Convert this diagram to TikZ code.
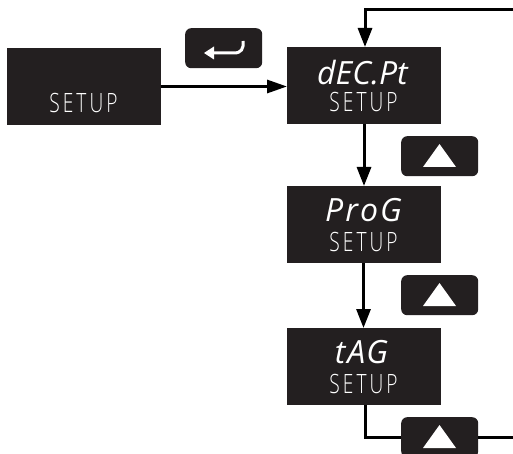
\documentclass[tikz,border=0pt]{standalone}
\usepackage{fontspec}
\setmainfont{Open Sans}
\newfontfamily\setupfont[UprightFont=* Light,FakeStretch=0.72]{Open Sans}
\newfontfamily\lcdfont[UprightFont=* Italic,FakeStretch=1.0]{Open Sans}
\usetikzlibrary{arrows.meta}
\definecolor{panel}{HTML}{231F20}
\newcommand{\setupword}{S\kern3pt E\kern3pt T\kern3pt U\kern3pt P}
\tikzset{
  x=1pt,y=-1pt,
  display/.style={fill=panel,draw=none,inner sep=0,minimum width=154pt,minimum height=77pt,anchor=north west},
  keybox/.style={fill=panel,draw=none,rounded corners=6pt,inner sep=0,minimum width=77pt,minimum height=40pt,anchor=north west},
  setuptext/.style={text=white,font=\setupfont\fontsize{26.6}{27}\selectfont,inner sep=0,anchor=base},
  lcdtext/.style={text=white,font=\lcdfont\fontsize{32}{32}\selectfont,inner sep=0,anchor=base},
  flow/.style={line width=3pt,draw=black},
  flowarrow/.style={flow,-{Triangle[length=19pt,width=14pt]}},
  keymark/.style={fill=white,draw=none},
}
\begin{document}
\begin{tikzpicture}
\clip (0,0) rectangle (513,454);
\fill[white] (0,0) rectangle (513,454);
% displays
\node[display] (start) at (7,47.5) {};
\node[display] (decpt) at (287,47) {};
\node[display] (prog) at (287,186) {};
\node[display] (tag) at (287,328) {};
% keys
\node[keybox] (enter) at (185,28) {};
\node[keybox] (up1) at (401,136) {};
\node[keybox] (up2) at (401,275) {};
\node[keybox] (up3) at (401,417) {};
% display text
\node[setuptext] (s0) at (83.5,113) {\setupword};
\node[setuptext] (s1) at (363.5,112) {\setupword};
\node[setuptext] (s2) at (363.5,251) {\setupword};
\node[setuptext] (s3) at (363.5,393) {\setupword};
\node[lcdtext] (t1) at (362.5,85) {dEC.Pt};
\node[lcdtext] (t2) at (363.5,222) {P\kern2pt r\kern2pt o\kern2pt G};
\node[lcdtext] (t3) at (361.5,363) {t\kern2pt A\kern1pt G};
% key marks
\fill[keymark] (423,167) -- (439.5,144) -- (456,167) -- cycle;
\fill[keymark] (423,306) -- (439.5,283) -- (456,306) -- cycle;
\fill[keymark] (423,448) -- (439.5,425) -- (456,448) -- cycle;
\draw[white,line width=3pt] (212,53) -- (234,53) .. controls (241,53) and (244,49) .. (243,41);
\fill[keymark] (204,53) -- (214,46.5) -- (214,59.5) -- cycle;
% connectors
\coordinate (loopin) at (513,10);
\coordinate (loopout) at (513,437);
\draw[flow,-{Triangle[length=20pt,width=13pt]}] (start.east |- 0,86.5) -- (decpt.west |- 0,86.5);
\draw[flowarrow] (loopin) -- (365,10) -- (365,47);
\draw[flowarrow] (364,124) -- (364,186);
\draw[flowarrow] (363.5,263) -- (363.5,328);
\draw[flow] (365,405) -- (365,437) -- (up3.west |- loopout);
\draw[flow] (up3.east |- loopout) -- (loopout);
\end{tikzpicture}
\end{document}
